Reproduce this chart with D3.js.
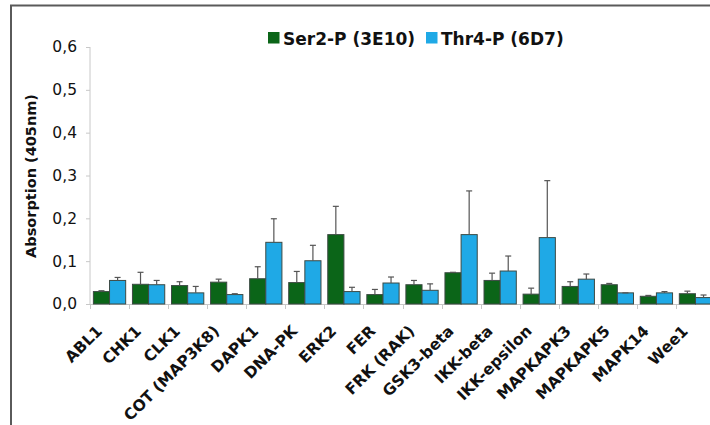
<!DOCTYPE html>
<html>
<head>
<meta charset="utf-8">
<script src="https://cdn.jsdelivr.net/npm/d3@7"></script>
<style>
  html, body { margin: 0; padding: 0; background: #fff; }
  svg { display: block; font-family: "DejaVu Sans", Verdana, sans-serif; }
</style>
</head>
<body>
<svg id="chart" width="710" height="425"></svg>
<script>
// Kinases tested
const categories = ["ABL1", "CHK1", "CLK1", "COT (MAP3K8)", "DAPK1", "DNA-PK", "ERK2", "FER",
  "FRK (RAK)", "GSK3-beta", "IKK-beta", "IKK-epsilon", "MAPKAPK3", "MAPKAPK5", "MAPK14", "Wee1"];

// Mean absorption at 405 nm and upper error (SD) per antibody
const ser2 = [0.029, 0.046, 0.043, 0.051, 0.059, 0.050, 0.162, 0.022, 0.045, 0.073, 0.055, 0.023, 0.041, 0.045, 0.018, 0.024];
const ser2Err = [0.002, 0.028, 0.009, 0.007, 0.028, 0.026, 0.066, 0.012, 0.010, 0.001, 0.017, 0.014, 0.011, 0.003, 0.002, 0.006];
const thr4 = [0.055, 0.045, 0.026, 0.022, 0.144, 0.101, 0.029, 0.049, 0.032, 0.162, 0.077, 0.155, 0.058, 0.026, 0.026, 0.015];
const thr4Err = [0.007, 0.010, 0.015, 0.002, 0.055, 0.036, 0.010, 0.014, 0.015, 0.102, 0.035, 0.133, 0.012, 0.000, 0.003, 0.006];

const seriesNames = ["Ser2-P (3E10)", "Thr4-P (6D7)"];
const seriesColors = ["#0b6518", "#1fa9e6"];
const yTicks = [0, 0.1, 0.2, 0.3, 0.4, 0.5, 0.6];

const series = [
  { name: seriesNames[0], values: ser2, errors: ser2Err, color: seriesColors[0] },
  { name: seriesNames[1], values: thr4, errors: thr4Err, color: seriesColors[1] }
];

const svg = d3.select("#chart");
const W = 710, H = 425;
const plotLeft = 90, plotRight = 715, plotTop = 47, plotBottom = 304;

// outer frame (left and top edges visible)
svg.append("path")
  .attr("d", `M11,${H} L11,5.5 L${W},5.5`)
  .attr("fill", "none").attr("stroke", "#5a5a5a").attr("stroke-width", 2);

const x = d3.scaleBand().domain(categories).range([plotLeft, plotRight]).paddingInner(0).paddingOuter(0);
const x1 = d3.scaleBand().domain([0, 1]).range([0, x.bandwidth()]).paddingInner(0).paddingOuter(0.21);
const y = d3.scaleLinear().domain([0, 0.6]).range([plotBottom, plotTop]);

const comma = d3.formatLocale({ decimal: ",", thousands: ".", grouping: [3], currency: ["", ""] }).format(".1f");

// y axis
const yAxis = svg.append("g").attr("transform", `translate(${plotLeft},0)`)
  .call(d3.axisLeft(y).tickValues(yTicks).tickFormat(comma).tickSize(4).tickPadding(9));
yAxis.select(".domain").attr("stroke", "#c8c8c8").attr("d", `M0,${plotTop}V${plotBottom}`);
yAxis.selectAll(".tick line").attr("stroke", "#c8c8c8");
yAxis.selectAll(".tick text").attr("font-size", 15.5).attr("fill", "#111")
  .attr("font-family", "DejaVu Sans, Verdana, sans-serif");

// x axis with category separators
const xAxis = svg.append("g").attr("transform", `translate(0,${plotBottom})`);
xAxis.append("line").attr("x1", plotLeft).attr("x2", W).attr("y1", 0.5).attr("y2", 0.5).attr("stroke", "#c8c8c8");
xAxis.selectAll("line.sep").data(categories).join("line").attr("class", "sep")
  .attr("x1", d => Math.round(x(d)) + 0.5).attr("x2", d => Math.round(x(d)) + 0.5)
  .attr("y1", 0).attr("y2", 5).attr("stroke", "#c8c8c8");
xAxis.selectAll("text").data(categories).join("text")
  .attr("transform", d => `translate(${x(d) + x.bandwidth() / 2 - 6.5},28) rotate(-45)`)
  .attr("text-anchor", "end")
  .attr("font-size", 15.5).attr("font-weight", "bold").attr("fill", "#111")
  .text(d => d);

// bars
const groups = svg.append("g").selectAll("g").data(series).join("g");
groups.each(function (s, si) {
  const g = d3.select(this);
  g.selectAll("rect").data(categories).join("rect")
    .attr("x", d => x(d) + x1(si))
    .attr("y", (d, i) => y(s.values[i]))
    .attr("width", x1.bandwidth())
    .attr("height", (d, i) => y(0) - y(s.values[i]))
    .attr("fill", s.color)
    .attr("stroke", "#3d4a44").attr("stroke-width", 1);
});

// error bars (upper whisker only)
groups.each(function (s, si) {
  const g = d3.select(this);
  const cx = d => x(d) + x1(si) + x1.bandwidth() / 2;
  const eb = g.selectAll("g.err").data(categories).join("g").attr("class", "err");
  eb.append("line")
    .attr("x1", cx).attr("x2", cx)
    .attr("y1", (d, i) => y(s.values[i]))
    .attr("y2", (d, i) => y(s.values[i] + s.errors[i]))
    .attr("stroke", "#555").attr("stroke-width", 1.2);
  eb.append("line")
    .attr("x1", d => cx(d) - 3).attr("x2", d => cx(d) + 3)
    .attr("y1", (d, i) => y(s.values[i] + s.errors[i]))
    .attr("y2", (d, i) => y(s.values[i] + s.errors[i]))
    .attr("stroke", "#555").attr("stroke-width", 1.2);
});

// y axis title
svg.append("text")
  .attr("transform", `translate(36,176) rotate(-90)`)
  .attr("text-anchor", "middle")
  .attr("font-size", 14.5).attr("font-weight", "bold").attr("fill", "#111")
  .text("Absorption (405nm)");

// legend
const legend = svg.append("g").attr("transform", "translate(268,32)");
const legendX = [0, 158];
series.forEach((s, i) => {
  const lg = legend.append("g").attr("transform", `translate(${legendX[i]},0)`);
  lg.append("rect").attr("width", 11.5).attr("height", 11.5).attr("fill", s.color);
  lg.append("text").attr("x", 15).attr("y", 13)
    .attr("font-size", 17).attr("font-weight", "bold").attr("fill", "#111")
    .text(s.name);
});
</script>
</body>
</html>
